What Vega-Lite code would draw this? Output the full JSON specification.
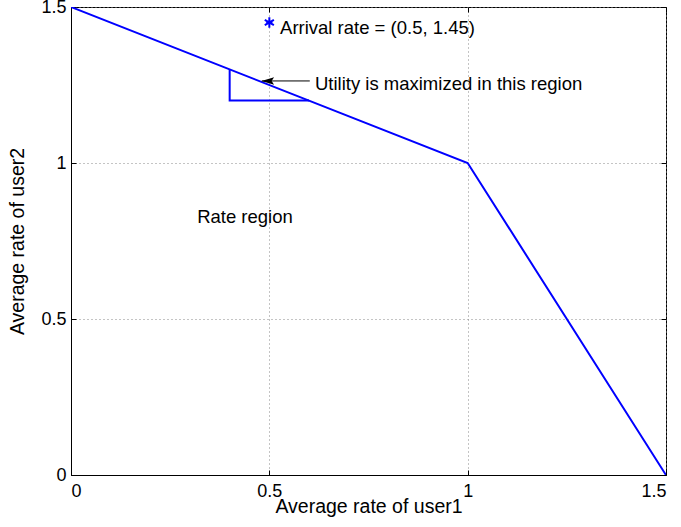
{
  "$schema": "https://vega.github.io/schema/vega-lite/v6.json",
  "autosize": "none",
  "width": 595,
  "height": 468,
  "padding": {"left": 71, "top": 7, "right": 15, "bottom": 52},
  "background": "white",
  "config": {
    "view": {"stroke": "black", "strokeWidth": 1},
    "font": "Liberation Sans",
    "axis": {
      "domainColor": "black",
      "tickColor": "black",
      "labelColor": "black",
      "titleColor": "black",
      "labelFont": "Liberation Sans",
      "titleFont": "Liberation Sans",
      "labelFontSize": 18,
      "titleFontSize": 19.5,
      "titleFontWeight": "normal",
      "gridColor": "#888888",
      "gridDash": [1, 3],
      "gridOpacity": 1
    }
  },
  "datasets": {
    "lines": [
      {"series": "boundary", "idx": 0, "x": 0, "y": 1.5},
      {"series": "boundary", "idx": 1, "x": 1, "y": 1},
      {"series": "boundary", "idx": 2, "x": 1.5, "y": 0},
      {"series": "triangle", "idx": 0, "x": 0.4, "y": 1.3},
      {"series": "triangle", "idx": 1, "x": 0.4, "y": 1.2},
      {"series": "triangle", "idx": 2, "x": 0.6, "y": 1.2}
    ],
    "arrow": [
      {"idx": 0, "x": 0.602, "y": 1.263},
      {"idx": 1, "x": 0.481, "y": 1.263}
    ],
    "star": [{"x": 0.5, "y": 1.45}],
    "labels": [
      {"x": 0.527, "y": 1.433, "text": "Arrival rate = (0.5, 1.45)"},
      {"x": 0.615, "y": 1.252, "text": "Utility is maximized in this region"},
      {"x": 0.318, "y": 0.827, "text": "Rate region"}
    ]
  },
  "layer": [
    {
      "data": {"name": "lines"},
      "mark": {"type": "line", "color": "#0000ff", "strokeWidth": 2, "clip": true},
      "encoding": {
        "x": {
          "field": "x", "type": "quantitative",
          "scale": {"domain": [0, 1.5], "nice": false, "zero": false},
          "axis": {
            "values": [0, 0.5, 1, 1.5], "format": "~g", "grid": true,
            "tickSize": -5, "labelPadding": 12,
            "title": "Average rate of user1", "titlePadding": -3
          }
        },
        "y": {
          "field": "y", "type": "quantitative",
          "scale": {"domain": [0, 1.5], "nice": false, "zero": false},
          "axis": {
            "values": [0, 0.5, 1, 1.5], "format": "~g", "grid": true,
            "tickSize": -5, "labelPadding": 10,
            "title": "Average rate of user2", "titlePadding": 13
          }
        },
        "detail": {"field": "series"},
        "order": {"field": "idx"}
      }
    },
    {
      "data": {"name": "arrow"},
      "mark": {"type": "line", "color": "black", "strokeWidth": 1},
      "encoding": {
        "x": {"field": "x", "type": "quantitative", "axis": {"orient": "top", "values": [0, 0.5, 1, 1.5], "labels": false, "title": null, "tickSize": -5, "domain": false, "grid": false}},
        "y": {"field": "y", "type": "quantitative", "axis": {"orient": "right", "values": [0, 0.5, 1, 1.5], "labels": false, "title": null, "tickSize": -5, "domain": false, "grid": false}},
        "order": {"field": "idx"}
      }
    },
    {
      "data": {"name": "arrow"},
      "transform": [{"filter": "datum.idx == 1"}],
      "mark": {"type": "point", "shape": "M-1,0L1,-0.6L0.6,0L1,0.6Z", "filled": true, "color": "black", "size": 160, "opacity": 1, "xOffset": 6},
      "encoding": {
        "x": {"field": "x", "type": "quantitative", "axis": null},
        "y": {"field": "y", "type": "quantitative", "axis": null}
      }
    },
    {
      "data": {"name": "star"},
      "mark": {"type": "point", "shape": "M0,-1L0,1M-0.87,-0.5L0.87,0.5M-0.87,0.5L0.87,-0.5M-0.6,0L0.6,0", "filled": false, "color": "#0000ff", "strokeWidth": 2, "size": 110, "opacity": 1},
      "encoding": {
        "x": {"field": "x", "type": "quantitative", "axis": null},
        "y": {"field": "y", "type": "quantitative", "axis": null}
      }
    },
    {
      "data": {"name": "labels"},
      "mark": {"type": "text", "align": "left", "baseline": "middle", "fontSize": 18.5, "font": "Liberation Sans", "color": "black"},
      "encoding": {
        "x": {"field": "x", "type": "quantitative", "axis": null},
        "y": {"field": "y", "type": "quantitative", "axis": null},
        "text": {"field": "text"}
      }
    }
  ],
  "resolve": {"axis": {"x": "independent", "y": "independent"}}
}
